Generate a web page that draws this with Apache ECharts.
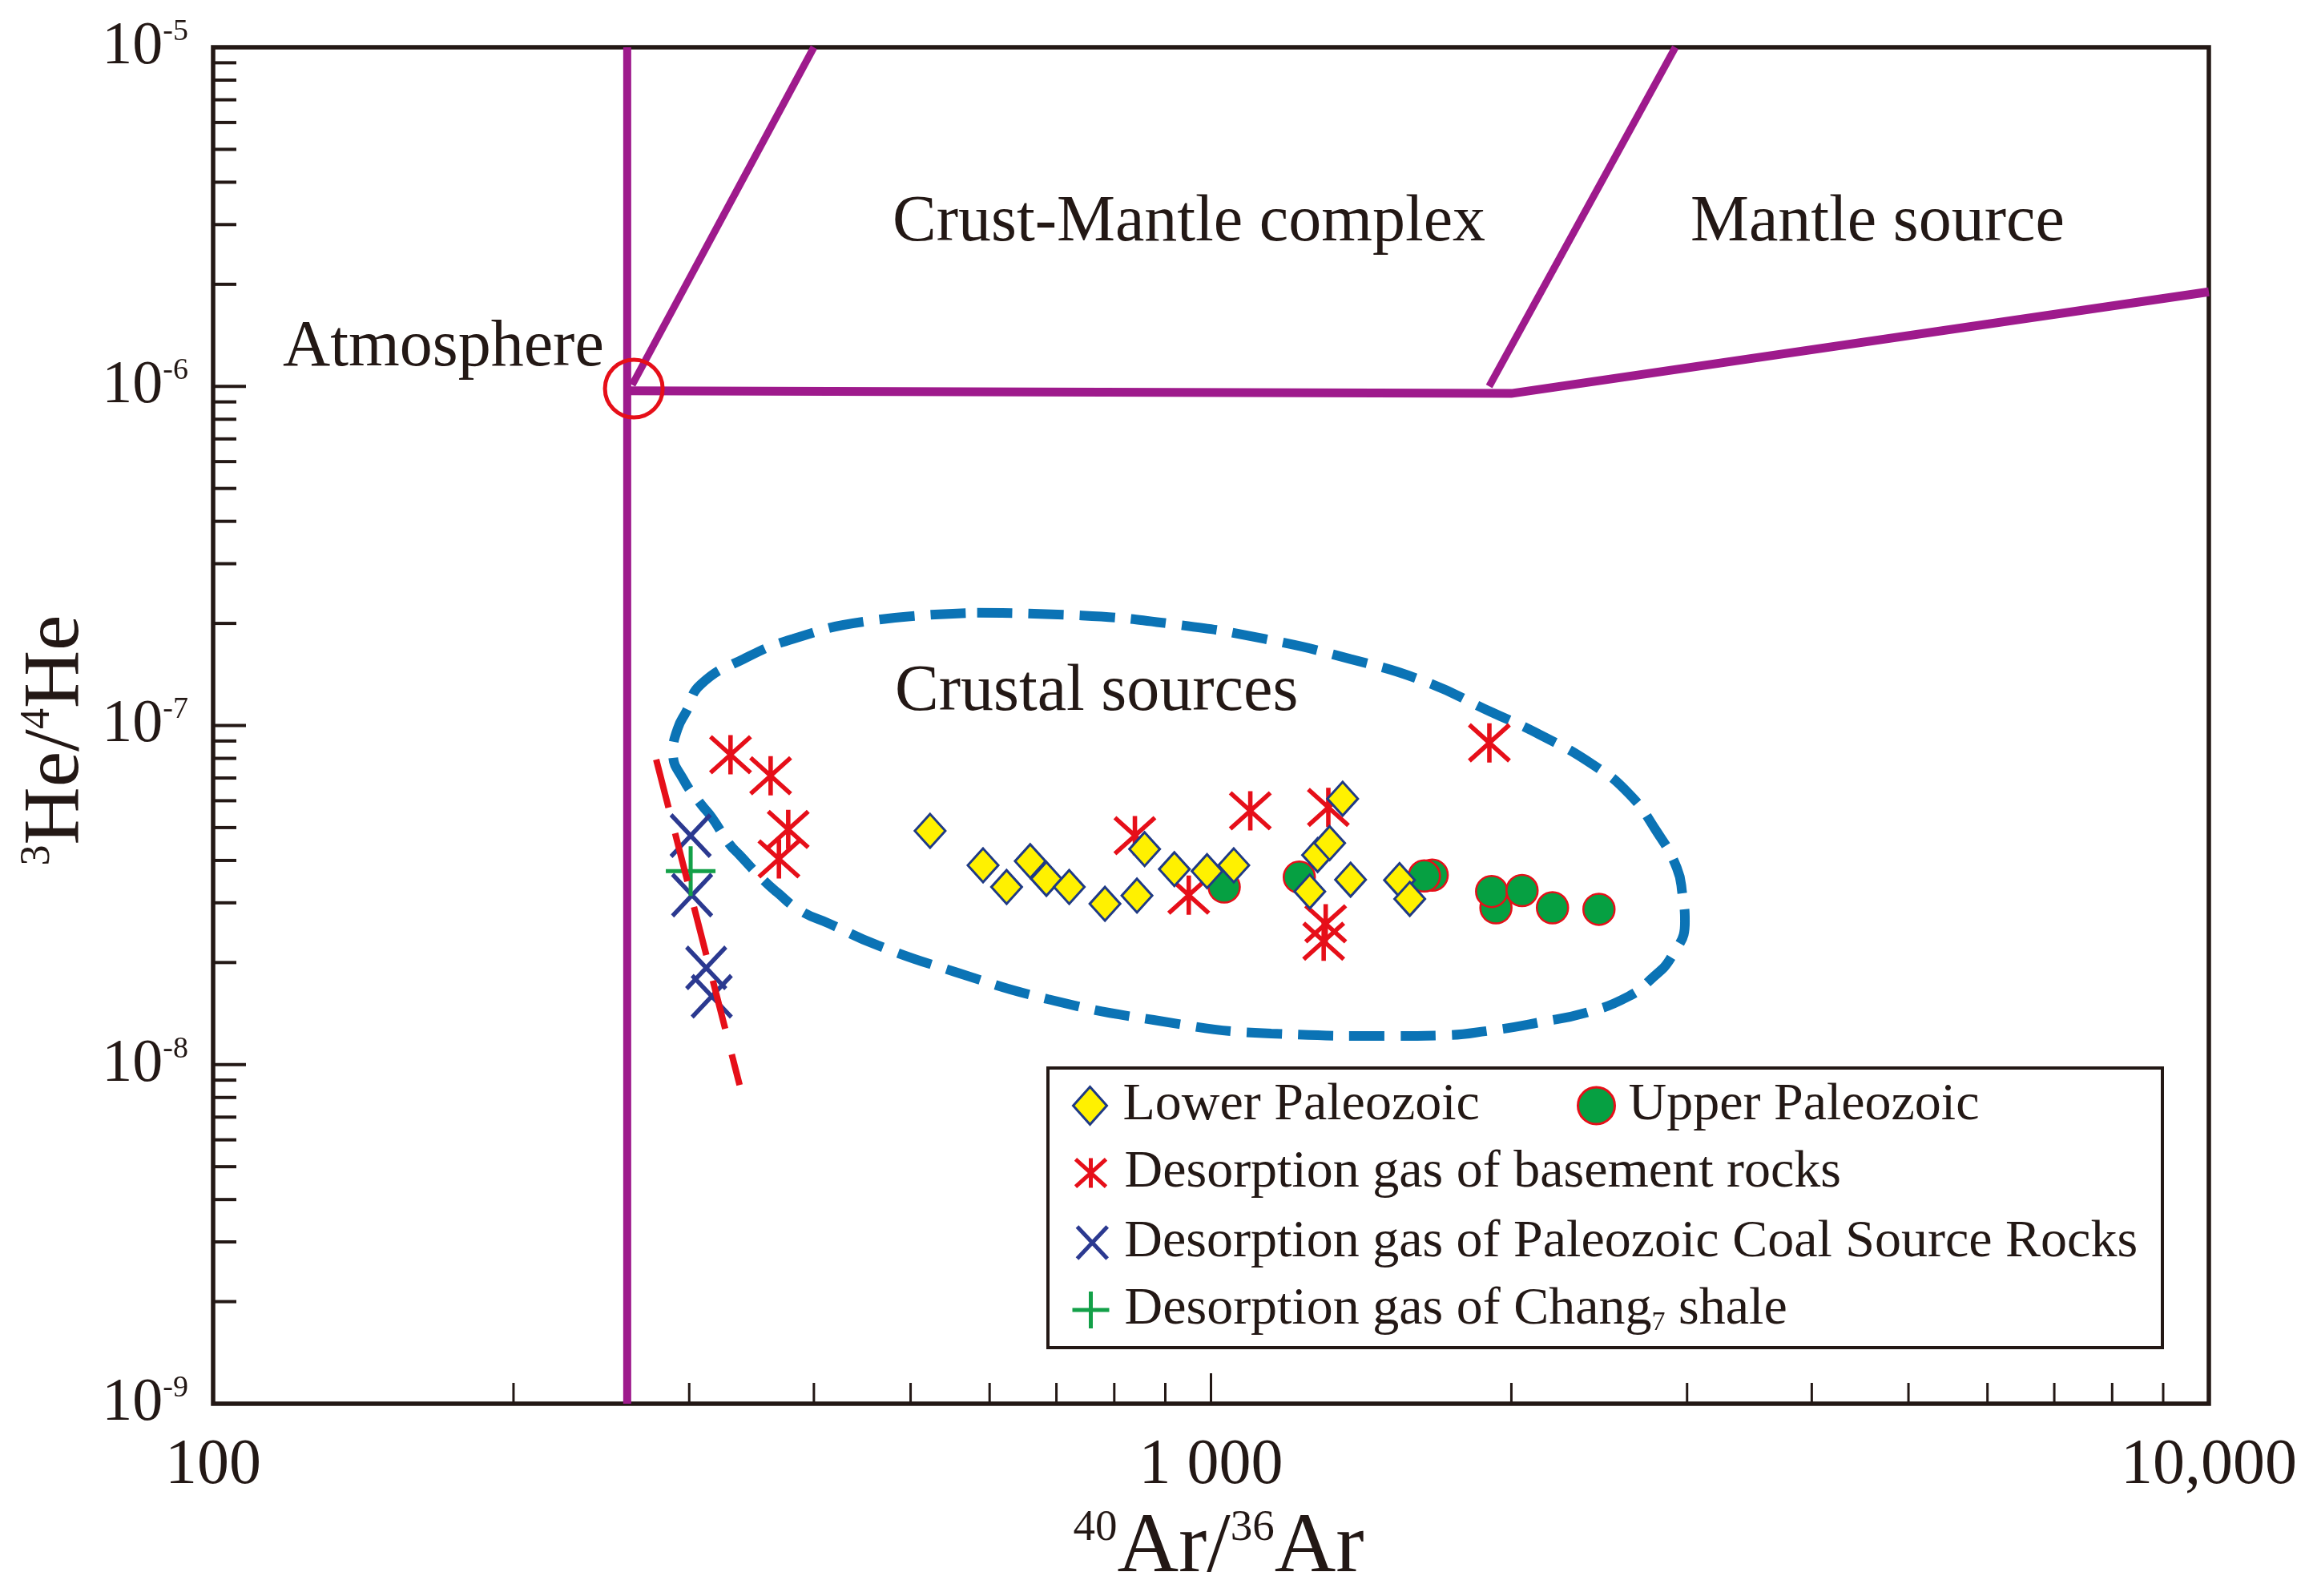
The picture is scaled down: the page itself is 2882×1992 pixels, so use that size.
<!DOCTYPE html>
<html><head><meta charset="utf-8">
<script src="https://cdn.jsdelivr.net/npm/echarts/dist/echarts.min.js"></script>
<style>html,body{margin:0;padding:0;background:#fff}#c{width:2882px;height:1992px}</style>
</head><body><div id="c"></div>
<script>
// ---------- axis ticks / labels ----------
const xTickLabels = ['100', '1 000', '10,000'];          // at 10^2, 10^3, 10^4
const yTickExponents = ['-9', '-8', '-7', '-6', '-5'];   // at 10^-9 ... 10^-5
const tickMantissas = [2, 3, 4, 5, 6, 7, 8, 9];
const xDecades = [100, 1000];
const yDecades = [1e-9, 1e-8, 1e-7, 1e-6];
const xMajorTicks = [1000];
const yMajorTicks = [1e-8, 1e-7, 1e-6];

// ---------- data (40Ar/36Ar, 3He/4He) ----------
const lowerPaleozoic = [
  [523, 4.89e-8], [591, 3.87e-8], [624, 3.34e-8], [659, 3.98e-8], [684, 3.53e-8],
  [721, 3.34e-8], [783, 2.98e-8], [843, 3.15e-8], [858, 4.32e-8], [919, 3.77e-8],
  [991, 3.72e-8], [1054, 3.87e-8], [1256, 3.24e-8], [1279, 4.15e-8], [1315, 4.5e-8],
  [1355, 6.08e-8], [1380, 3.51e-8], [1545, 3.5e-8], [1582, 3.08e-8]
];
const upperPaleozoic = [
  [1031, 3.34e-8], [1226, 3.57e-8], [1666, 3.62e-8], [1636, 3.6e-8], [1930, 2.9e-8],
  [1911, 3.24e-8], [2050, 3.26e-8], [2199, 2.9e-8], [2448, 2.87e-8]
];
const basementRocks = [
  [330, 8.2e-8], [362, 7.11e-8], [377, 4.94e-8], [369, 4.04e-8], [839, 4.73e-8],
  [950, 3.16e-8], [1095, 5.6e-8], [1311, 5.73e-8], [1303, 2.6e-8], [1297, 2.31e-8],
  [1901, 8.89e-8]
];
const coalSourceRocks = [[301, 4.73e-8], [302, 3.16e-8], [312, 1.93e-8], [316, 1.59e-8]];
const chang7Shale = [[301, 3.72e-8]];

// ---------- field boundaries ----------
const atmospherePoint = [[264, 9.85e-7]];
const boundaryVertical = [[260, 1e-9], [260, 1e-5]];
const boundaryLeftDiag = [[263, 1.01e-6], [400, 1e-5]];
const boundaryHorizontal = [[260, 9.7e-7], [2000, 9.53e-7], [10000, 1.9e-6]];
const boundaryRightDiag = [[1900, 1.0e-6], [2920, 1e-5]];
const trendLine = [[278, 7.94e-8], [337, 8.7e-9]];
const crustalOutline = [
  [583, 2.15e-7], [742, 2.11e-7], [929, 1.98e-7], [1132, 1.8e-7], [1380, 1.57e-7],
  [1636, 1.35e-7], [1904, 1.1e-7], [2135, 9.4e-8], [2408, 7.7e-8], [2622, 6.3e-8],
  [2793, 4.9e-8], [2930, 3.8e-8], [2968, 3.17e-8], [2985, 2.64e-8], [2897, 2.09e-8],
  [2757, 1.78e-8], [2622, 1.59e-8], [2390, 1.43e-8], [2127, 1.33e-8], [1904, 1.26e-8],
  [1704, 1.22e-8], [1508, 1.215e-8], [1149, 1.235e-8], [876, 1.354e-8], [686, 1.56e-8],
  [553, 1.88e-8], [463, 2.25e-8], [415, 2.6e-8], [388, 2.84e-8], [367, 3.23e-8],
  [355, 3.53e-8], [337, 4.15e-8], [329, 4.48e-8], [316, 5.36e-8], [308, 5.88e-8],
  [296, 6.93e-8], [289, 8.3e-8], [292, 9.76e-8], [298, 1.1e-7], [308, 1.32e-7],
  [340, 1.57e-7], [381, 1.8e-7], [452, 2.03e-7], [583, 2.15e-7]
];

// ---------- build tick lists ----------
const xMinorTicks = [], yMinorTicks = [];
xDecades.forEach(d => tickMantissas.forEach(m => xMinorTicks.push([m * d, 1e-9])));
yDecades.forEach(d => tickMantissas.forEach(m => yMinorTicks.push([100, m * d])));

const FONT = 'Liberation Serif';
const INK = '#231815';
const PURPLE = '#9E1A8C';
const RED = '#E60F19';

const SYM_ASTER = 'path://M25,0L25,49M0,2L50,47M50,2L0,47';
const SYM_X = 'path://M0,0L49,52M49,0L0,52';
const SYM_PLUS = 'path://M0,31L62,31M31,0L31,62';

function tickSeries(data, dx, dy, width) {
  return {
    type: 'custom', silent: true, clip: false, z: 6, data: data,
    renderItem: function (params, api) {
      const p = api.coord([api.value(0), api.value(1)]);
      return { type: 'line', shape: { x1: p[0], y1: p[1], x2: p[0] + dx, y2: p[1] + dy },
               style: { stroke: INK, lineWidth: width } };
    }
  };
}
function boundary(data, width) {
  return { type: 'line', data: data, symbol: 'none', silent: true, z: 2,
           lineStyle: { color: PURPLE, width: width, cap: 'butt', join: 'miter' } };
}
function legendItem(name, left, top, w, h, pad, bw, extra) {
  return Object.assign({
    data: [name], left: left, top: top, orient: 'horizontal', padding: 0,
    itemWidth: w, itemHeight: h, selectedMode: false,
    itemStyle: { borderWidth: bw, opacity: 1 },
    textStyle: { fontFamily: FONT, fontSize: 66, lineHeight: 66, color: INK, padding: [0, 0, 0, pad] }
  }, extra || {});
}

const chart = echarts.init(document.getElementById('c'), null, { renderer: 'canvas' });
chart.setOption({
  animation: false,
  backgroundColor: '#ffffff',
  grid: { left: 266, right: 125, top: 59, bottom: 240, show: true, borderWidth: 5.5,
          borderColor: INK, backgroundColor: 'transparent', containLabel: false, outerBoundsMode: 'none' },
  xAxis: {
    type: 'log', logBase: 10, min: 100, max: 10000,
    axisLine: { show: false }, axisTick: { show: false }, splitLine: { show: false },
    axisLabel: {
      show: true, showMinLabel: true, showMaxLabel: true, margin: 38,
      fontFamily: FONT, fontSize: 80, color: INK,
      formatter: v => xTickLabels[Math.round(Math.log10(v)) - 2]
    }
  },
  yAxis: {
    type: 'log', logBase: 10, min: 1e-9, max: 1e-5,
    axisLine: { show: false }, axisTick: { show: false }, splitLine: { show: false },
    axisLabel: {
      show: true, showMinLabel: true, showMaxLabel: true, margin: 31,
      fontFamily: FONT, fontSize: 76, lineHeight: 76, color: INK,
      formatter: v => '10{sup|' + yTickExponents[Math.round(Math.log10(v)) + 9] + '}',
      rich: { sup: { fontFamily: FONT, fontSize: 38, lineHeight: 28, verticalAlign: 'top', color: INK } }
    }
  },
  legend: [
    legendItem('Lower Paleozoic', 1338, 1347, 42, 47, 15, 3),
    legendItem('Upper Paleozoic', 1968, 1347, 46, 46, 12, 3),
    legendItem('Desorption gas of basement rocks', 1340, 1431, 38, 42, 18, 5),
    legendItem('Desorption gas of Paleozoic Coal Source Rocks', 1342, 1518, 38, 40, 16, 5),
    legendItem('Desorption gas of Chang7 shale', 1336, 1602, 46, 48, 14, 5, {
      formatter: n => n.replace('Chang7', 'Chang{sub|7}'),
      textStyle: { fontFamily: FONT, fontSize: 66, lineHeight: 66, color: INK, padding: [0, 0, 0, 14],
                   rich: { sub: { fontFamily: FONT, fontSize: 34, lineHeight: 16, verticalAlign: 'bottom', color: INK } } }
    })
  ],
  graphic: [
    { type: 'rect', z: 1, shape: { x: 1308, y: 1333, width: 1391, height: 349 },
      style: { fill: 'none', stroke: INK, lineWidth: 4 } },
    { type: 'text', x: 353, y: 434, style: { text: 'Atmosphere', fontFamily: FONT, fontSize: 82, fill: INK, align: 'left', verticalAlign: 'middle' } },
    { type: 'text', x: 1114, y: 278, style: { text: 'Crust-Mantle complex', fontFamily: FONT, fontSize: 82, fill: INK, align: 'left', verticalAlign: 'middle' } },
    { type: 'text', x: 2110, y: 278, style: { text: 'Mantle source', fontFamily: FONT, fontSize: 82, fill: INK, align: 'left', verticalAlign: 'middle' } },
    { type: 'text', x: 1117, y: 864, style: { text: 'Crustal sources', fontFamily: FONT, fontSize: 82, fill: INK, align: 'left', verticalAlign: 'middle' } },
    { type: 'text', x: 1521, y: 1933, style: {
        text: '{sup|40}Ar/{sup|36}Ar', fontFamily: FONT, fontSize: 106, lineHeight: 106, fill: INK,
        align: 'center', verticalAlign: 'middle',
        rich: { sup: { fontFamily: FONT, fontSize: 55, lineHeight: 38, verticalAlign: 'top', fill: INK } } } },
    { type: 'text', x: 71, y: 924, rotation: Math.PI / 2, style: {
        text: '{sup|3}He/{sup|4}He', fontFamily: FONT, fontSize: 100, lineHeight: 100, fill: INK,
        align: 'center', verticalAlign: 'middle',
        rich: { sup: { fontFamily: FONT, fontSize: 52, lineHeight: 36, verticalAlign: 'top', fill: INK } } } }
  ],
  series: [
    boundary(boundaryVertical, 10),
    boundary(boundaryLeftDiag, 9),
    boundary(boundaryHorizontal, 11),
    boundary(boundaryRightDiag, 9),
    { type: 'line', name: 'crustal', data: crustalOutline, symbol: 'none', smooth: 0.5, silent: true, z: 2,
      lineStyle: { color: '#0B73B5', width: 12, type: [44, 20], cap: 'butt' } },
    { type: 'scatter', name: 'atmosphere', data: atmospherePoint, symbol: 'circle', symbolSize: 72, z: 3, silent: true,
      itemStyle: { color: 'transparent', borderColor: RED, borderWidth: 5, opacity: 1 } },
    { type: 'scatter', name: 'Desorption gas of basement rocks', data: basementRocks, symbol: SYM_ASTER,
      symbolSize: [50, 49], z: 3, itemStyle: { color: 'transparent', borderColor: RED, borderWidth: 5.5, opacity: 1 } },
    { type: 'scatter', name: 'Desorption gas of Paleozoic Coal Source Rocks', data: coalSourceRocks, symbol: SYM_X,
      symbolSize: [49, 52], z: 3, itemStyle: { color: 'transparent', borderColor: '#2B3990', borderWidth: 5.5, opacity: 1 } },
    { type: 'scatter', name: 'Desorption gas of Chang7 shale', data: chang7Shale, symbol: SYM_PLUS,
      symbolSize: [62, 62], z: 3, itemStyle: { color: 'transparent', borderColor: '#13A048', borderWidth: 5, opacity: 1 } },
    { type: 'scatter', name: 'Upper Paleozoic', data: upperPaleozoic, symbol: 'circle', symbolSize: 39, z: 4,
      itemStyle: { color: '#06A042', borderColor: RED, borderWidth: 2.5, opacity: 1 } },
    { type: 'scatter', name: 'Lower Paleozoic', data: lowerPaleozoic, symbol: 'diamond', symbolSize: [38, 42], z: 5,
      itemStyle: { color: '#FFF100', borderColor: '#1F3A86', borderWidth: 3, opacity: 1 } },
    { type: 'line', name: 'trend', data: trendLine, symbol: 'none', silent: true, z: 6,
      lineStyle: { color: RED, width: 8, type: [62, 33], cap: 'butt' } },
    tickSeries(xMinorTicks, 0, -26, 3),
    tickSeries(xMajorTicks.map(v => [v, 1e-9]), 0, -38, 3),
    tickSeries(yMinorTicks, 29, 0, 4),
    tickSeries(yMajorTicks.map(v => [100, v]), 41, 0, 4)
  ]
});
</script>
</body></html>
